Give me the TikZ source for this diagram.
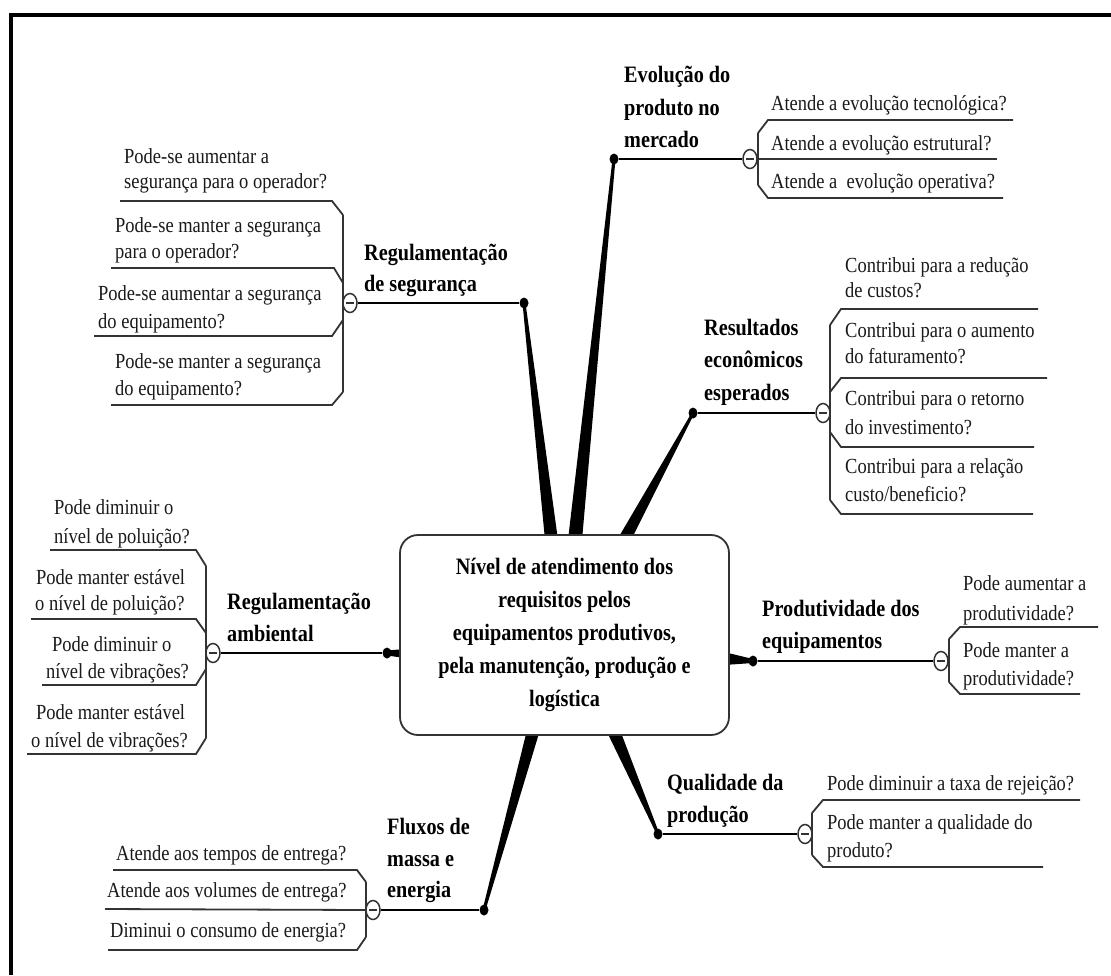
\documentclass[tikz,border=0pt]{standalone}
\usepackage{fontspec}
\setmainfont{Liberation Serif}[FakeStretch=0.86]
\usetikzlibrary{shapes.geometric}
\definecolor{ln}{HTML}{333333}
\definecolor{tx}{HTML}{1A1A1A}
\begin{document}
\begin{tikzpicture}[x=1pt,y=-1pt,
 itm/.style={anchor=base west, inner sep=0pt, text=tx, font=\fontsize{21.5}{27}\selectfont},
 ttl/.style={anchor=base west, inner sep=0pt, text=black, font=\bfseries\fontsize{23.5}{32}\selectfont},
 uline/.style={draw=ln, line width=1.8pt},
 spine/.style={draw=ln, line width=1.3pt},
 branch/.style={draw=black, line width=2pt},
 wedge/.style={fill=black},
 dotnode/.style={ellipse, fill=black, minimum width=9pt, minimum height=11pt, inner sep=0pt},
 coll/.style={ellipse, draw=ln, fill=white, line width=1.5pt, minimum width=14pt, minimum height=19pt, inner sep=0pt,
   path picture={\draw[line width=1.4pt, ln] ([xshift=-4pt]path picture bounding box.center) -- ([xshift=4pt]path picture bounding box.center);}},
 hubbox/.style={draw=ln, line width=1.8pt, rounded corners=18pt, fill=white, minimum width=329pt, minimum height=200pt,
   align=center, inner sep=0pt, font=\bfseries\fontsize{23.5}{33}\selectfont}
]
\useasboundingbox (0,0) rectangle (1111,975);
\fill[white] (0,0) rectangle (1111,975);
% frame
\draw[line width=4pt] (11,975) -- (11,15) -- (1111,15);

% tapered branches
\fill[wedge] (545,540) -- (558,540) -- (525.5,303) -- (522.5,303) -- cycle;
\fill[wedge] (568,540) -- (582,540) -- (615.5,159) -- (612.5,159) -- cycle;
\fill[wedge] (617,540) -- (631,540) -- (694.5,413) -- (691.5,413) -- cycle;
\fill[wedge] (724,652) -- (724,665) -- (753,663) -- (753,659) -- cycle;
\fill[wedge] (405,649) -- (405,658) -- (387,655.5) -- (387,650.5) -- cycle;
\fill[wedge] (606,730) -- (620,730) -- (659.5,834) -- (656.5,834) -- cycle;
\fill[wedge] (527,730) -- (540,730) -- (485.5,910) -- (482.5,910) -- cycle;

% central topic
\node[hubbox] (hub) at (564.5,635) {Nível de atendimento dos\\requisitos pelos\\equipamentos produtivos,\\pela manutenção, produção e\\logística};

% ---------- Regulamentação de segurança
\node[dotnode] (dseg) at (524,303) {};
\draw[spine] (343,215) -- (343,392);
\draw[uline] (120,201) -- (332,201) -- (343,215);
\draw[uline] (111,268) -- (334,268) -- (343,283);
\draw[uline] (94,336) -- (332,336) -- (343,320);
\draw[uline] (111,405) -- (332,405) -- (343,392);
\node[coll] (cseg) at (350,303) {};
\draw[branch] (cseg) -- (dseg);
\node[ttl] (tseg1) at (364,260) {Regulamentação};
\node[ttl] (tseg2) at (364,291) {de segurança};
\node[itm] (seg1a) at (124,163) {Pode-se aumentar a};
\node[itm] (seg1b) at (124,188) {segurança para o operador?};
\node[itm] (seg2a) at (115,232) {Pode-se manter a segurança};
\node[itm] (seg2b) at (115,258) {para o operador?};
\node[itm] (seg3a) at (98,300) {Pode-se aumentar a segurança};
\node[itm] (seg3b) at (98,328) {do equipamento?};
\node[itm] (seg4a) at (115,368) {Pode-se manter a segurança};
\node[itm] (seg4b) at (115,395) {do equipamento?};

% ---------- Evolução do produto no mercado
\node[dotnode] (devo) at (614,159) {};
\draw[spine] (758,133) -- (758,185);
\draw[uline] (1013,120) -- (768,120) -- (758,133);
\draw[uline] (1003,198) -- (768,198) -- (758,185);
\node[coll] (cevo) at (750,159) {};
\draw[uline] (cevo.east) -- (997,159);
\draw[branch] (devo) -- (cevo);
\node[ttl] (tevo1) at (624,82) {Evolução do};
\node[ttl] (tevo2) at (624,115) {produto no};
\node[ttl] (tevo3) at (624,147) {mercado};
\node[itm] (evo1) at (771,110) {Atende a evolução tecnológica?};
\node[itm] (evo2) at (771,150) {Atende a evolução estrutural?};
\node[itm] (evo3) at (771,188) {Atende a\ \ evolução operativa?};

% ---------- Resultados econômicos esperados
\node[dotnode] (dres) at (693,413) {};
\draw[spine] (830,325) -- (830,500);
\draw[uline] (1038,309) -- (841,309) -- (830,325);
\draw[uline] (1047,378) -- (841,378) -- (830,392);
\draw[uline] (1034,447) -- (841,447) -- (830,432);
\draw[uline] (1033,514) -- (841,514) -- (830,500);
\node[coll] (cres) at (823,413) {};
\draw[branch] (dres) -- (cres);
\node[ttl] (tres1) at (704,335) {Resultados};
\node[ttl] (tres2) at (704,367) {econômicos};
\node[ttl] (tres3) at (704,400) {esperados};
\node[itm] (res1a) at (845,272) {Contribui para a redução};
\node[itm] (res1b) at (845,297) {de custos?};
\node[itm] (res2a) at (845,337) {Contribui para o aumento};
\node[itm] (res2b) at (845,363) {do faturamento?};
\node[itm] (res3a) at (845,405) {Contribui para o retorno};
\node[itm] (res3b) at (845,434) {do investimento?};
\node[itm] (res4a) at (845,473) {Contribui para a relação};
\node[itm] (res4b) at (845,501) {custo/beneficio?};

% ---------- Regulamentação ambiental
\node[dotnode] (damb) at (387,653) {};
\draw[spine] (206,566) -- (206,738);
\draw[uline] (50,550) -- (196,550) -- (206,566);
\draw[uline] (31,619) -- (196,619) -- (206,633);
\draw[uline] (42,685) -- (196,685) -- (206,669);
\draw[uline] (27,754) -- (196,754) -- (206,738);
\node[coll] (camb) at (213,653) {};
\draw[branch] (camb) -- (damb);
\node[ttl] (tamb1) at (227,609) {Regulamentação};
\node[ttl] (tamb2) at (227,641) {ambiental};
\node[itm] (amb1a) at (54,514) {Pode diminuir o};
\node[itm] (amb1b) at (54,543) {nível de poluição?};
\node[itm] (amb2a) at (36,584) {Pode manter estável};
\node[itm] (amb2b) at (35,610) {o nível de poluição?};
\node[itm] (amb3a) at (52,651) {Pode diminuir o};
\node[itm] (amb3b) at (46,678) {nível de vibrações?};
\node[itm] (amb4a) at (36,719) {Pode manter estável};
\node[itm] (amb4b) at (31,747) {o nível de vibrações?};

% ---------- Produtividade dos equipamentos
\node[dotnode] (dpro) at (753,661) {};
\draw[spine] (949,639) -- (949,682);
\draw[uline] (1098,627) -- (960,627) -- (949,639);
\draw[uline] (1080,694) -- (960,694) -- (949,682);
\node[coll] (cpro) at (941,661) {};
\draw[branch] (dpro) -- (cpro);
\node[ttl] (tpro1) at (762,616) {Produtividade dos};
\node[ttl] (tpro2) at (762,648) {equipamentos};
\node[itm] (pro1a) at (963,590) {Pode aumentar a};
\node[itm] (pro1b) at (963,620) {produtividade?};
\node[itm] (pro2a) at (963,657) {Pode manter a};
\node[itm] (pro2b) at (963,685) {produtividade?};

% ---------- Qualidade da produção
\node[dotnode] (dqua) at (658,834) {};
\draw[spine] (812,813) -- (812,855);
\draw[uline] (1080,800) -- (823,800) -- (812,813);
\draw[uline] (1043,867) -- (823,867) -- (812,855);
\node[coll] (cqua) at (805,834) {};
\draw[branch] (dqua) -- (cqua);
\node[ttl] (tqua1) at (667,790) {Qualidade da};
\node[ttl] (tqua2) at (667,822) {produção};
\node[itm] (qua1) at (827,790) {Pode diminuir a taxa de rejeição?};
\node[itm] (qua2a) at (827,829) {Pode manter a qualidade do};
\node[itm] (qua2b) at (827,857) {produto?};

% ---------- Fluxos de massa e energia
\node[dotnode] (dflu) at (484,910) {};
\draw[spine] (366,882) -- (366,937);
\draw[uline] (113,870) -- (357,870) -- (366,882);
\draw[uline] (108,950) -- (357,950) -- (366,937);
\node[coll] (cflu) at (373,910) {};
\draw[uline] (105,909) -- (cflu.west);
\draw[branch] (cflu) -- (dflu);
\node[ttl] (tflu1) at (387,834) {Fluxos de};
\node[ttl] (tflu2) at (387,866) {massa e};
\node[ttl] (tflu3) at (387,897) {energia};
\node[itm] (flu1) at (116,860) {Atende aos tempos de entrega?};
\node[itm] (flu2) at (107,897) {Atende aos volumes de entrega?};
\node[itm] (flu3) at (110,937) {Diminui o consumo de energia?};
\end{tikzpicture}
\end{document}
